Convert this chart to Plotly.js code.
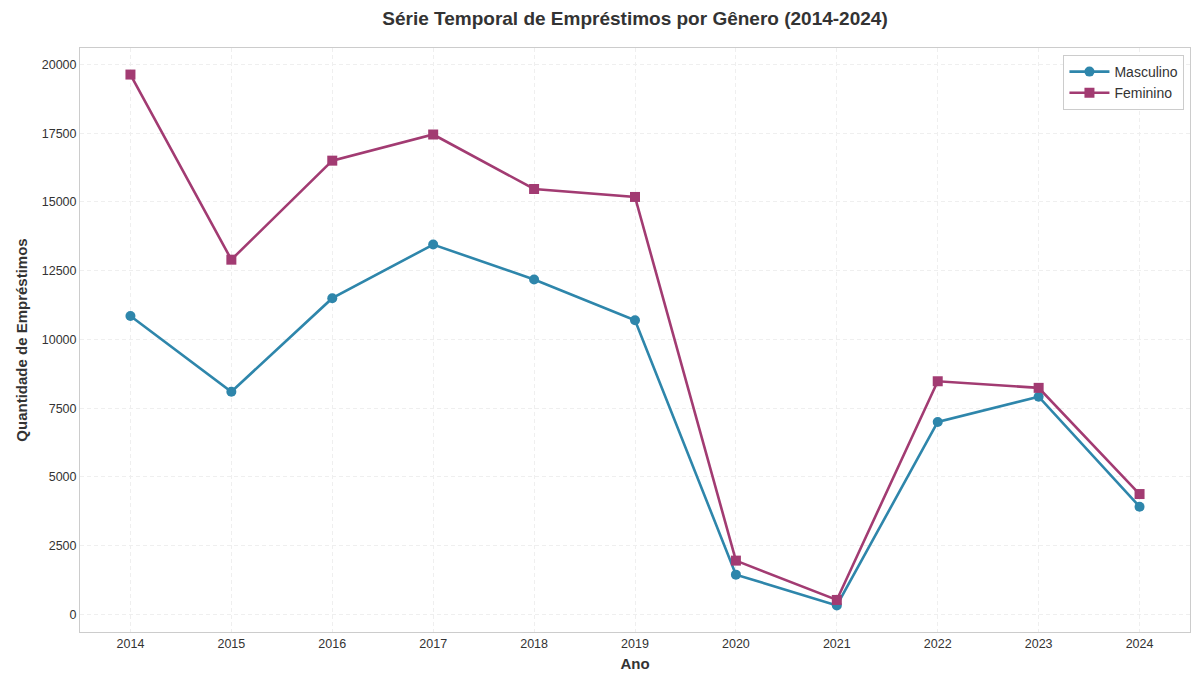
<!DOCTYPE html>
<html>
<head>
<meta charset="utf-8">
<script src="https://cdn.plot.ly/plotly-3.0.1.min.js"></script>
<style>html,body{margin:0;padding:0;background:#fff;}#chart{width:1192px;height:673px;}</style>
</head>
<body>
<div id="chart"></div>
<script>
const years = [2014, 2015, 2016, 2017, 2018, 2019, 2020, 2021, 2022, 2023, 2024];
const masculino = [10850, 8100, 11500, 13450, 12180, 10700, 1450, 330, 7000, 7920, 3920];
const feminino = [19630, 12900, 16500, 17450, 15470, 15180, 1960, 530, 8480, 8240, 4380];
const yTicks = [0, 2500, 5000, 7500, 10000, 12500, 15000, 17500, 20000];

const traces = [
  {
    x: years, y: masculino, name: 'Masculino', type: 'scatter', mode: 'lines+markers',
    line: {color: '#2E86AB', width: 2.6},
    marker: {symbol: 'circle', size: 10, color: '#2E86AB'}
  },
  {
    x: years, y: feminino, name: 'Feminino', type: 'scatter', mode: 'lines+markers',
    line: {color: '#A23B72', width: 2.6},
    marker: {symbol: 'square', size: 10, color: '#A23B72'}
  }
];

const font = 'Liberation Sans, Arial, sans-serif';
const layout = {
  width: 1192, height: 673,
  margin: {l: 80, r: 2, t: 48, b: 41},
  paper_bgcolor: '#ffffff', plot_bgcolor: '#ffffff',
  font: {family: font, color: '#333333', size: 12},
  title: {text: '<b>Série Temporal de Empréstimos por Gênero (2014-2024)</b>',
    font: {family: font, size: 19, color: '#333333'}, xref: 'paper', x: 0.5, xanchor: 'center', y: 0.973, yanchor: 'middle'},
  xaxis: {
    range: [2013.5, 2024.5], tickmode: 'array', tickvals: years, ticktext: years.map(String),
    showgrid: true, gridcolor: '#efefef', griddash: '4px,3px', gridwidth: 1,
    zeroline: false, showline: true, linecolor: '#cccccc', mirror: true, linewidth: 1,
    ticks: '', ticklen: 0, tickfont: {size: 12.5, color: '#333333'},
    title: {text: '<b>Ano</b>', font: {size: 15, color: '#333333'}, standoff: 8}
  },
  yaxis: {
    range: [-635, 20595], tickmode: 'array', tickvals: yTicks, ticktext: yTicks.map(String),
    showgrid: true, gridcolor: '#efefef', griddash: '4px,3px', gridwidth: 1,
    zeroline: false, showline: true, linecolor: '#cccccc', mirror: true, linewidth: 1,
    ticks: '', ticklen: 0, tickfont: {size: 12.5, color: '#333333'},
    title: {text: '<b>Quantidade de Empréstimos</b>', font: {size: 15, color: '#333333'}, standoff: 10}
  },
  legend: {
    x: 0.995, y: 0.988, xanchor: 'right', yanchor: 'top',
    bgcolor: 'rgba(255,255,255,0.9)', bordercolor: '#cccccc', borderwidth: 1,
    font: {size: 14, color: '#333333'}, tracegroupgap: 0, itemwidth: 40
  },
  showlegend: true
};

Plotly.newPlot('chart', traces, layout, {displayModeBar: false, staticPlot: true});
</script>
</body>
</html>
